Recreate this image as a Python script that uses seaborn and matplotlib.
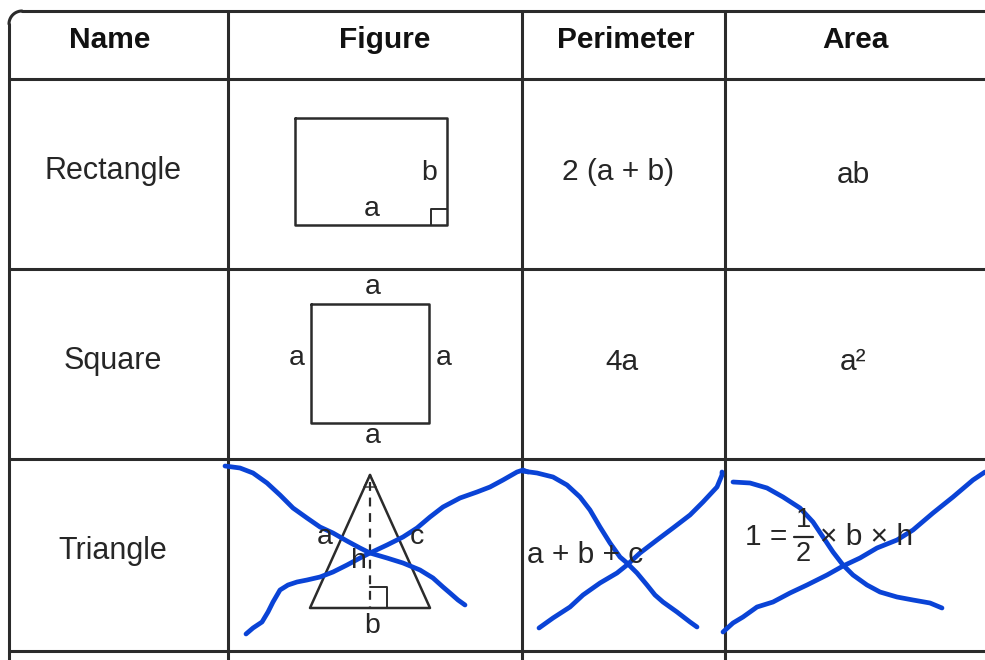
import numpy as np
import pandas as pd
import seaborn as sns
import matplotlib.pyplot as plt

# table content
headers = ["Name", "Figure", "Perimeter", "Area"]
names = ["Rectangle", "Square", "Triangle"]
perimeters = ["2 (a + b)", "4a", "a + b + c"]
areas = ["ab", "a\u00b2", ""]

# grid, in picture pixels
col_edges = [9, 228, 522, 725]
row_edges = [11, 79, 269, 459, 651]
header_x = [110, 385, 626, 855]

# drawn shapes
rect_x = [295, 447, 447, 295, 295]
rect_y = [118, 118, 225, 225, 118]
square_x = [311, 429, 429, 311, 311]
square_y = [304, 304, 423, 423, 304]
tri_x = [370, 430, 310, 370]
tri_y = [475, 608, 608, 475]

# blue pen strokes over the triangle row
pen_figure_1 = [(225, 466), (240, 468), (253, 473), (267, 483), (280, 495), (293, 508),
                (307, 518), (320, 527), (333, 533), (347, 541), (360, 548), (370, 553),
                (387, 558), (403, 563), (420, 570), (433, 578), (443, 587), (450, 593),
                (458, 600), (465, 605)]
pen_figure_2 = [(246, 634), (253, 628), (262, 622), (268, 612), (273, 602), (280, 590),
                (288, 585), (297, 582), (307, 580), (320, 577), (333, 572), (347, 565),
                (360, 558), (370, 553), (387, 545), (403, 537), (417, 528), (430, 517),
                (443, 507), (460, 498), (477, 492), (490, 487), (503, 480), (517, 472),
                (523, 470), (528, 472)]
pen_perim_1 = [(522, 471), (537, 473), (553, 477), (567, 485), (580, 497), (590, 510),
               (600, 527), (610, 543), (620, 557), (627, 563), (637, 573), (647, 585),
               (655, 595), (663, 602), (677, 612), (690, 622), (697, 627)]
pen_perim_2 = [(539, 628), (553, 618), (570, 607), (583, 595), (600, 583), (617, 573),
               (627, 565), (640, 553), (657, 540), (673, 528), (690, 515), (703, 502),
               (717, 487), (722, 475), (722, 472)]
pen_area_1 = [(733, 482), (750, 483), (767, 488), (783, 497), (800, 508), (813, 522),
              (823, 537), (833, 552), (843, 565), (853, 575), (867, 585), (880, 592),
              (897, 597), (913, 600), (930, 603), (942, 608)]
pen_area_2 = [(723, 632), (733, 623), (743, 617), (757, 607), (773, 602), (790, 593),
              (807, 585), (827, 575), (843, 566), (860, 558), (877, 548), (897, 540),
              (913, 530), (933, 513), (953, 497), (973, 480), (985, 472)]

ink = "#2b2b2b"
txt = "#262626"
pen = "#0a43d6"

sns.set_theme(style="white")
plt.rcParams["font.family"] = ["Liberation Sans", "DejaVu Sans"]

fig = plt.figure(figsize=(9.85, 6.6), dpi=100)
ax = fig.add_axes([0, 0, 1, 1])
ax.set_xlim(0, 985)
ax.set_ylim(660, 0)
ax.axis("off")

# table grid
for y in row_edges[1:]:
    ax.plot([col_edges[0], 985], [y, y], color=ink, lw=2.2)
ax.plot([22, 985], [row_edges[0], row_edges[0]], color=ink, lw=2.2)
ax.plot([col_edges[0], col_edges[0]], [24, 660], color=ink, lw=2.2)
t = np.linspace(np.pi, 1.5 * np.pi, 20)
ax.plot(22 + 13 * np.cos(t), 24 + 13 * np.sin(t), color=ink, lw=2.2)
for x in col_edges[1:]:
    ax.plot([x, x], [row_edges[0], 660], color=ink, lw=2.2)

fs = 21.5
for x, h in zip(header_x, headers):
    ax.text(x, 40, h, ha="center", va="center", fontsize=fs, fontweight="bold", color="#111111")

row_mid = [171, 361, 551]
for y, n in zip(row_mid, names):
    ax.text(113, y, n, ha="center", va="center", fontsize=fs + 0.5, color=txt)
ax.text(618, 172, perimeters[0], ha="center", va="center", fontsize=fs, color=txt)
ax.text(622, 362, perimeters[1], ha="center", va="center", fontsize=fs, color=txt)
ax.text(527, 555, perimeters[2], ha="left", va="center", fontsize=fs, color=txt)
ax.text(853, 175, areas[0], ha="center", va="center", fontsize=fs, color=txt)
ax.text(853, 362, areas[1], ha="center", va="center", fontsize=fs, color=txt)

# area of triangle: 1 = 1/2 x b x h
ax.text(745, 537, "1 =", ha="left", va="center", fontsize=fs, color=txt)
ax.text(803, 520, "1", ha="center", va="center", fontsize=fs - 2, color=txt)
ax.plot([794, 813], [537, 537], color=txt, lw=1.6)
ax.text(803, 554, "2", ha="center", va="center", fontsize=fs - 2, color=txt)
ax.text(820, 537, "\u00d7 b \u00d7 h", ha="left", va="center", fontsize=fs, color=txt)

# shapes
lw_shape = 1.8
ax.plot(rect_x, rect_y, color=ink, lw=lw_shape)
ax.plot([431, 431, 447], [225, 209, 209], color=ink, lw=1.4)
ax.text(429, 173, "b", ha="center", va="center", fontsize=fs - 1, color=txt)
ax.text(372, 209, "a", ha="center", va="center", fontsize=fs - 1, color=txt)

ax.plot(square_x, square_y, color=ink, lw=lw_shape)
for x, y in [(373, 287), (297, 358), (444, 358), (373, 436)]:
    ax.text(x, y, "a", ha="center", va="center", fontsize=fs - 1, color=txt)

ax.plot(tri_x, tri_y, color=ink, lw=lw_shape)
ax.plot([370, 370], [482, 608], color=ink, lw=1.6, ls=(0, (4, 3)))
ax.plot([370, 387, 387], [587, 587, 608], color=ink, lw=1.4)
ax.plot([370, 364, 376, 370], [475, 487, 487, 475], color=ink, lw=1)
for (x, y), s in zip([(325, 537), (417, 537), (359, 561), (372, 626)], ["a", "c", "h", "b"]):
    ax.text(x, y, s, ha="center", va="center", fontsize=fs - 1, color=txt)

# pen strokes
frames = []
for k, stroke in enumerate([pen_figure_1, pen_figure_2, pen_perim_1, pen_perim_2,
                            pen_area_1, pen_area_2]):
    d = pd.DataFrame(stroke, columns=["x", "y"])
    d["stroke"] = k
    frames.append(d)
strokes = pd.concat(frames, ignore_index=True)
sns.lineplot(data=strokes, x="x", y="y", units="stroke", estimator=None, sort=False,
             color=pen, lw=3.4, ax=ax, legend=False,
             solid_capstyle="round", solid_joinstyle="round")
ax.set_xlim(0, 985)
ax.set_ylim(660, 0)
ax.axis("off")

fig.savefig("out.png", dpi=100, facecolor="white")
